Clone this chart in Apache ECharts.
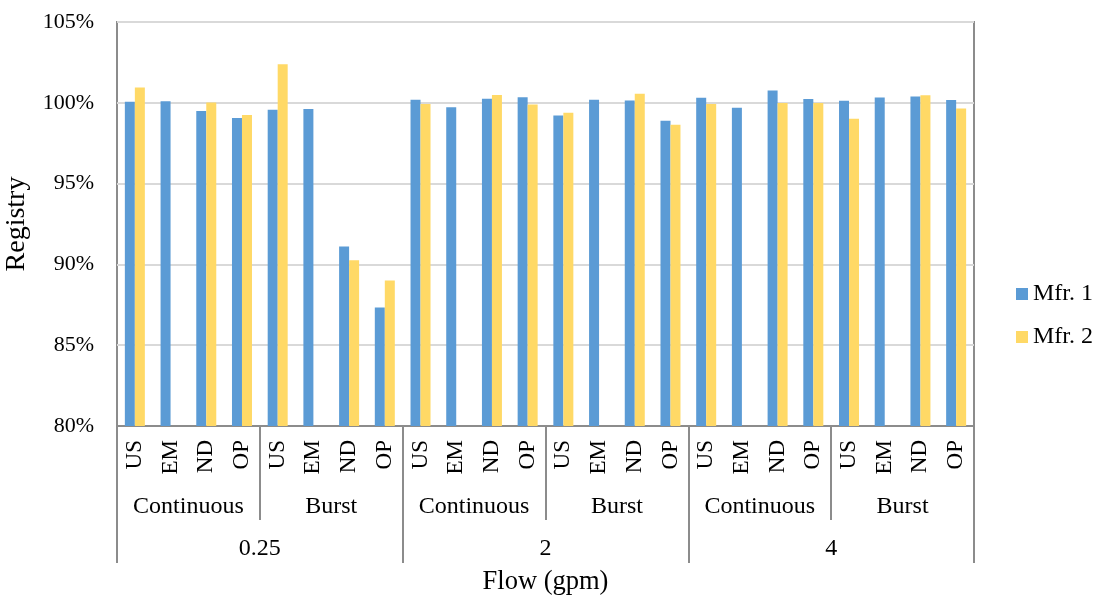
<!DOCTYPE html>
<html>
<head>
<meta charset="utf-8">
<script src="https://cdn.jsdelivr.net/npm/echarts@6/dist/echarts.min.js"></script>
<style>html,body{margin:0;padding:0;background:#fff}#c{width:1096px;height:599px}</style>
</head>
<body>
<div id="c"></div>
<script>
const sites = ['US','EM','ND','OP'];
const modes = ['Continuous','Burst'];
const flows = ['0.25','2','4'];
// Registry (%) per category, order: flow > mode > site
const mfr1 = [100.06,100.10,99.49,99.06, 99.57,99.61,91.10,87.33,
              100.19,99.73,100.25,100.35, 99.22,100.19,100.14,98.89,
              100.31,99.69,100.76,100.23, 100.12,100.33,100.39,100.17];
const mfr2 = [100.94,null,100.02,99.24, 102.39,null,90.25,89.01,
              99.92,null,100.49,99.90, 99.38,null,100.56,98.64,
              99.92,null,99.98,99.98, 99.01,null,100.47,99.65];
const yTicks = {min:80, max:105, interval:5};

const level1 = [], level2 = [];
flows.forEach(f => modes.forEach(m => { level2.push(m); sites.forEach(s => level1.push(s)); }));

const FONT = 'Liberation Serif';
const gray = '#8c8c8c';
const chart = echarts.init(document.getElementById('c'));
chart.setOption({
  animation:false,
  textStyle:{fontFamily:FONT,color:'#000'},
  grid:{left:117,right:122,top:22,bottom:173,show:true,borderColor:gray,borderWidth:2,
    containLabel:false,outerBoundsMode:'none'},
  legend:{orient:'vertical',left:1011,top:277,itemWidth:12,itemHeight:12,itemGap:19,
    textStyle:{fontFamily:FONT,fontSize:24,color:'#000'},icon:'rect'},
  xAxis:[
    {type:'category',data:level1,position:'bottom',
     axisLine:{lineStyle:{color:gray,width:2}},axisTick:{show:false},
     axisLabel:{rotate:90,interval:0,margin:14,fontSize:23,color:'#000',fontFamily:FONT}},
    {type:'category',data:level2,position:'bottom',
     axisLine:{show:false},axisTick:{show:true,length:94,interval:0,lineStyle:{color:gray,width:2}},
     axisLabel:{interval:0,margin:69,fontSize:24,color:'#000',fontFamily:FONT}},
    {type:'category',data:flows,position:'bottom',
     axisLine:{show:false},axisTick:{show:true,length:137,interval:0,lineStyle:{color:gray,width:2}},
     axisLabel:{interval:0,margin:111,fontSize:24,color:'#000',fontFamily:FONT},
     name:'Flow (gpm)',nameLocation:'middle',nameGap:143,
     nameTextStyle:{fontSize:26.5,color:'#000',fontFamily:FONT}},
  ],
  yAxis:{type:'value',min:yTicks.min,max:yTicks.max,interval:yTicks.interval,
    axisLine:{show:false},axisTick:{show:false},
    splitLine:{lineStyle:{color:'#d9d9d9',width:2}},
    axisLabel:{formatter:'{value}%',margin:23,fontSize:22,color:'#000',fontFamily:FONT},
    name:'Registry',nameLocation:'middle',nameGap:86,
    nameTextStyle:{fontSize:28,color:'#000',fontFamily:FONT}},
  series:[
    {name:'Mfr. 1',type:'bar',data:mfr1,barWidth:10,barGap:'0%',itemStyle:{color:'#5B9BD5'}},
    {name:'Mfr. 2',type:'bar',data:mfr2,barWidth:10,barGap:'0%',itemStyle:{color:'#FFD966'}}
  ]
});
</script>
</body>
</html>
